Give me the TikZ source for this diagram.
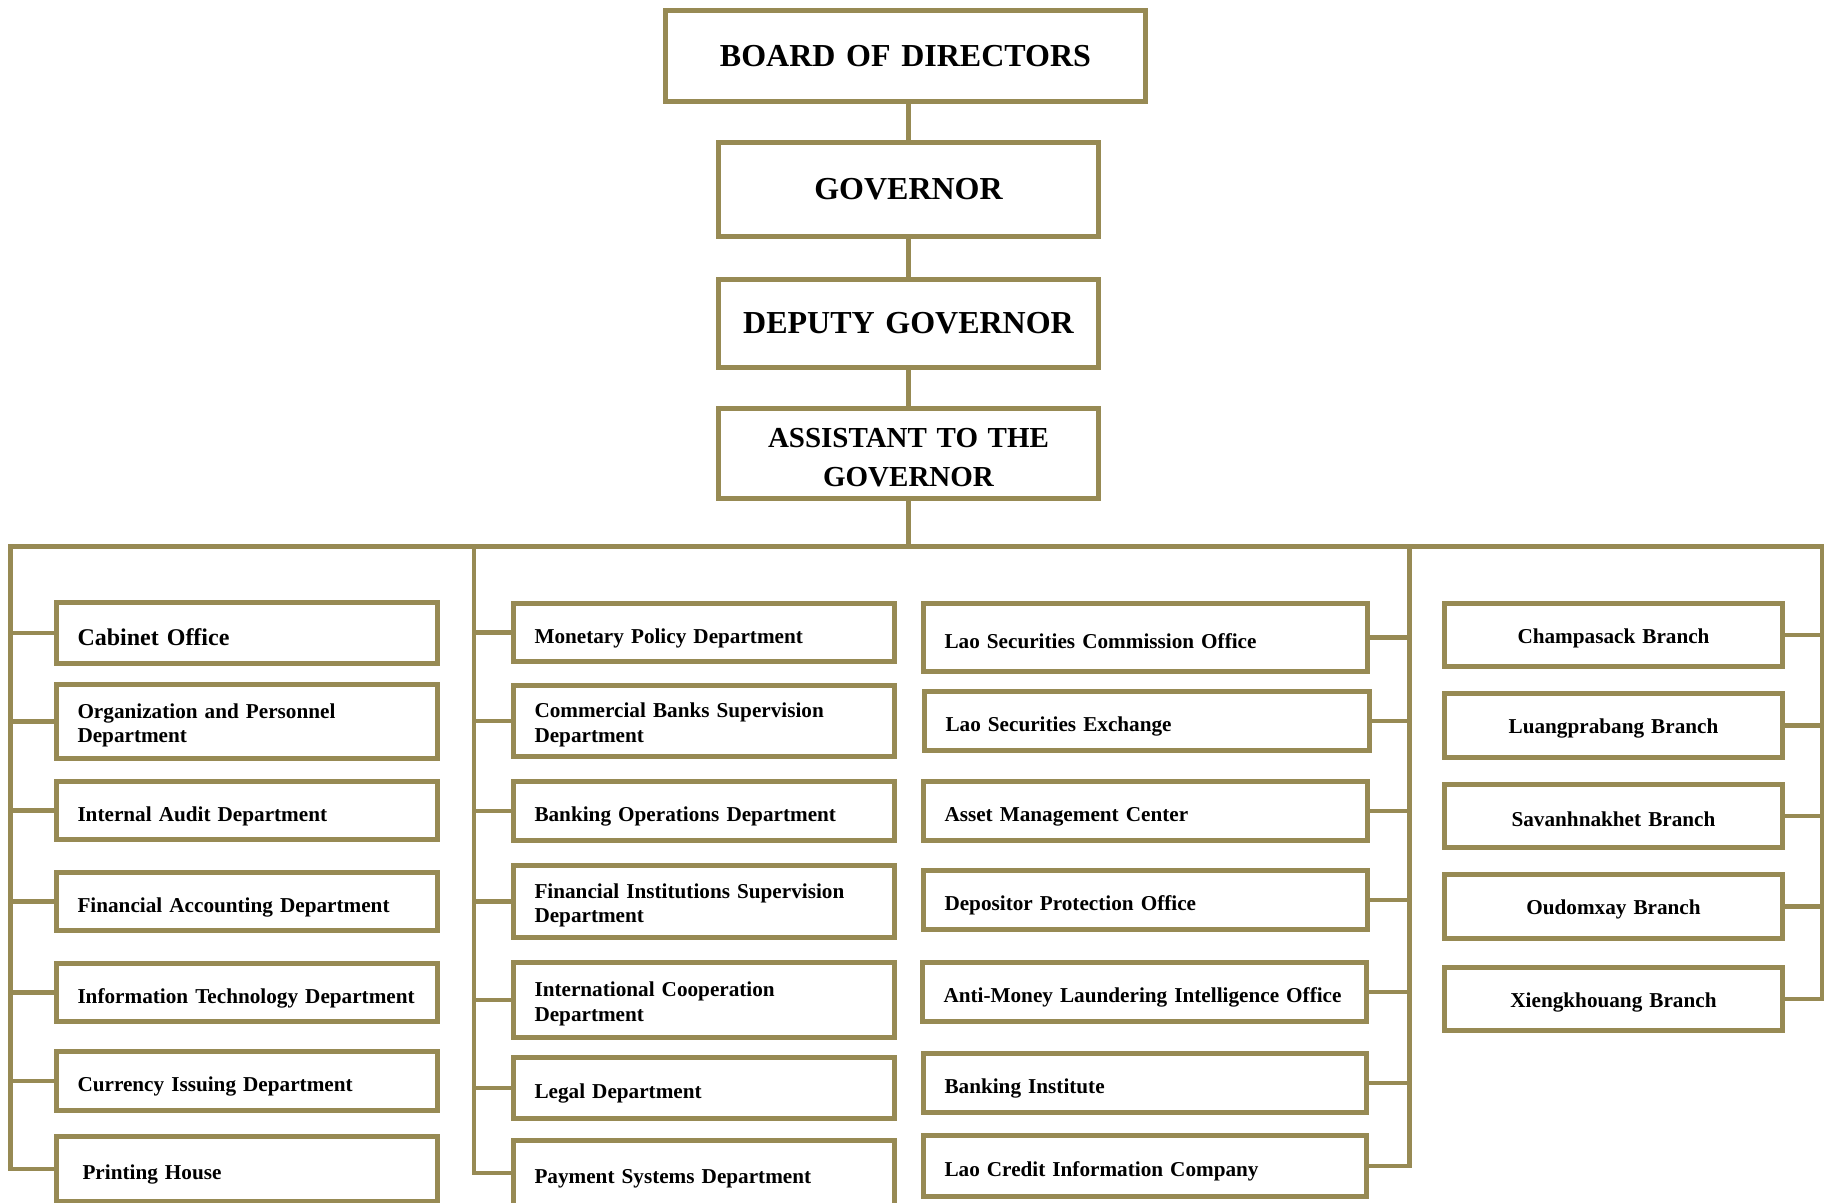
\documentclass[tikz,border=0pt]{standalone}
\usepackage{fontspec}
\setmainfont{Liberation Serif}
\definecolor{olv}{RGB}{151,138,84}
\newcommand{\obox}[7]{%
  \pgfmathsetmacro\bw{#4-#2-5}%
  \pgfmathsetmacro\bh{#5-#3-5}%
  \pgfmathsetmacro\tw{#4-#2-5-42}%
  \node[obx,#6,anchor=north west,minimum width=\bw pt,minimum height=\bh pt,text width=\tw pt] (#1) at (#2+2.5,#3+2.5) {#7};}
\begin{document}
\begin{tikzpicture}[x=1pt,y=-1pt,
  obx/.style={draw=olv,line width=5pt,outer sep=0pt,inner xsep=21pt,inner ysep=0pt,align=left,
    font=\bfseries\fontsize{21.2}{24.5}\selectfont},
  itm/.style={obx,execute at begin node={\rule{0pt}{26pt}}},
  itmb/.style={obx,execute at begin node={\rule{0pt}{22pt}}},
  ttl/.style={align=center,font=\bfseries\fontsize{32}{38.5}\selectfont},
  ttls/.style={align=center,font=\bfseries\fontsize{29}{38.5}\selectfont,execute at begin node={\rule{0pt}{27pt}}},
  brc/.style={align=center,execute at begin node={\rule{0pt}{21pt}}},
  big/.style={font=\bfseries\fontsize{24}{27}\selectfont},
  ln/.style={draw=olv,line width=4.5pt}]
\useasboundingbox (0,0) rectangle (1831,1202);
\clip (0,0) rectangle (1831,1202);
% top chain
\obox{board}{663}{8}{1148}{104}{ttl}{BOARD OF DIRECTORS}
\obox{gov}{716}{140}{1101}{239}{ttl}{GOVERNOR}
\obox{dep}{716}{277}{1101}{370}{ttl}{DEPUTY GOVERNOR}
\obox{asst}{716}{406}{1101}{501}{ttls}{ASSISTANT TO THE\\GOVERNOR}
% column 1
\obox{c1a}{54}{600}{440}{666}{itm,big}{Cabinet Office}
\obox{c1b}{54}{682}{440}{761}{itmb}{Organization and Personnel\\Department}
\obox{c1c}{54}{779}{440}{842}{itm}{Internal Audit Department}
\obox{c1d}{54}{870}{440}{933}{itm}{Financial Accounting Department}
\obox{c1e}{54}{961}{440}{1024}{itm}{Information Technology Department}
\obox{c1f}{54}{1049}{440}{1113}{itm}{Currency Issuing Department}
\obox{c1g}{54}{1134}{440}{1204}{itm}{\hspace*{5pt}Printing House}
% column 2
\obox{c2a}{511}{601}{897}{664}{itm}{Monetary Policy Department}
\obox{c2b}{511}{683}{897}{759}{itmb}{Commercial Banks Supervision\\Department}
\obox{c2c}{511}{779}{897}{843}{itm}{Banking Operations Department}
\obox{c2d}{511}{863}{897}{940}{itmb}{Financial Institutions Supervision\\Department}
\obox{c2e}{511}{960}{897}{1040}{itmb}{International Cooperation\\Department}
\obox{c2f}{511}{1055}{897}{1121}{itm}{Legal Department}
\obox{c2g}{511}{1138}{897}{1208}{itm}{Payment Systems Department}
% column 3
\obox{c3a}{921}{601}{1370}{674}{itmb}{Lao Securities Commission Office}
\obox{c3b}{922}{689}{1372}{753}{itm}{Lao Securities Exchange}
\obox{c3c}{921}{779}{1370}{843}{itm}{Asset Management Center}
\obox{c3d}{921}{868}{1370}{932}{itm}{Depositor Protection Office}
\obox{c3e}{920}{960}{1369}{1024}{itm}{Anti-Money Laundering Intelligence Office}
\obox{c3f}{921}{1051}{1369}{1115}{itm}{Banking Institute}
\obox{c3g}{921}{1133}{1369}{1199}{itm}{Lao Credit Information Company}
% branches
\obox{b1}{1442}{601}{1785}{669}{brc}{Champasack Branch}
\obox{b2}{1442}{691}{1785}{760}{brc}{Luangprabang Branch}
\obox{b3}{1442}{782}{1785}{850}{brc}{Savanhnakhet Branch}
\obox{b4}{1442}{872}{1785}{941}{brc}{Oudomxay Branch}
\obox{b5}{1442}{965}{1785}{1033}{brc}{Xiengkhouang Branch}
% bus coordinates
\coordinate (cL) at (10.5,546.5);
\coordinate (c2) at (474,546.5);
\coordinate (c3) at (1409.5,546.5);
\coordinate (cR) at (1822,546.5);
% connectors
\draw[ln] (gov.north) -- (gov.north |- board.south);
\draw[ln] (dep.north) -- (dep.north |- gov.south);
\draw[ln] (asst.north) -- (asst.north |- dep.south);
\draw[ln] (asst.south) -- (asst.south |- cL);
\draw[ln] (c1g.west) -| (cL) -- (cR) |- (b5.east);
\draw[ln] (c2) |- (c2g.west);
\draw[ln] (c3) |- (c3g.east);
\foreach \n in {c1a,c1b,c1c,c1d,c1e,c1f} \draw[ln] (cL |- \n.west) -- (\n.west);
\foreach \n in {c2a,c2b,c2c,c2d,c2e,c2f} \draw[ln] (c2 |- \n.west) -- (\n.west);
\foreach \n in {c3a,c3b,c3c,c3d,c3e,c3f} \draw[ln] (c3 |- \n.east) -- (\n.east);
\foreach \n in {b1,b2,b3,b4} \draw[ln] (cR |- \n.east) -- (\n.east);
\end{tikzpicture}
\end{document}
